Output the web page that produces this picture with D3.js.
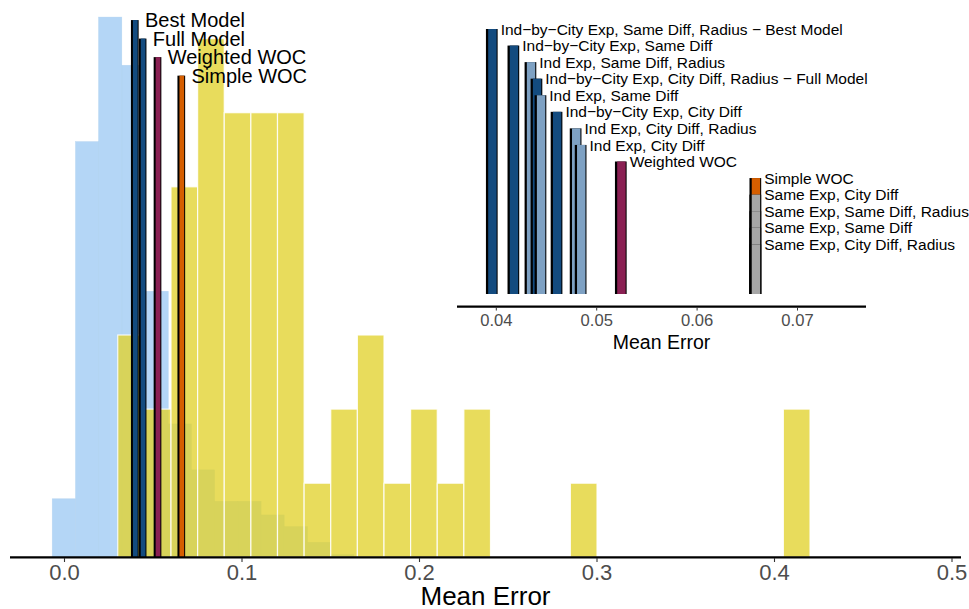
<!DOCTYPE html>
<html><head><meta charset="utf-8">
<script src="https://cdn.jsdelivr.net/npm/d3@7"></script>
<style>html,body{margin:0;padding:0;background:#fff;} svg{display:block;font-family:"Liberation Sans",Arial,sans-serif;}</style>
</head><body>
<svg id="chart" width="969" height="609"></svg>
<script>
// ---------- DATA ----------
// Individual-participant error histogram (light blue): bin left edges, bin width, heights
const indivBinEdges = [-0.0069, 0.0062, 0.0192, 0.0323, 0.0454, 0.0584, 0.0715, 0.0846, 0.0977, 0.1107, 0.1238, 0.1369, 0.1499];
const indivBinWidth = 0.01307;
const indivHeights = [0.79, 5.61, 7.29, 6.64, 3.59, 1.80, 1.18, 0.756, 0.756, 0.572, 0.414, 0.202, 0.036];
// City-level error histogram (yellow): bin left edges, bin width, counts
const cityBinEdges = [0.03, 0.045, 0.06, 0.075, 0.09, 0.105, 0.12, 0.135, 0.15, 0.165, 0.18, 0.195, 0.21, 0.225, 0.285, 0.405];
const cityBinWidth = 0.015;
const cityCounts = [3, 2, 5, 7, 6, 6, 6, 1, 2, 3, 1, 2, 1, 2, 1, 2];
// Main-panel model markers
const mainModels = ["Best Model", "Full Model", "Weighted WOC", "Simple WOC"];
const mainModelErrors = [0.0396, 0.0440, 0.0524, 0.0658];
const mainModelHeights = [7.25, 7.0, 6.75, 6.5];
const mainModelKinds = ["indcity", "indcity", "weighted", "simple"];
// Inset models
const insetModels = [
  "Ind\u2212by\u2212City Exp, Same Diff, Radius \u2212 Best Model",
  "Ind\u2212by\u2212City Exp, Same Diff",
  "Ind Exp, Same Diff, Radius",
  "Ind\u2212by\u2212City Exp, City Diff, Radius \u2212 Full Model",
  "Ind Exp, Same Diff",
  "Ind\u2212by\u2212City Exp, City Diff",
  "Ind Exp, City Diff, Radius",
  "Ind Exp, City Diff",
  "Weighted WOC",
  "Simple WOC",
  "Same Exp, City Diff",
  "Same Exp, Same Diff, Radius",
  "Same Exp, Same Diff",
  "Same Exp, City Diff, Radius"
];
const insetErrors = [0.03955, 0.0417, 0.0434, 0.0440, 0.0444, 0.0460, 0.0479, 0.0484, 0.0524, 0.0658, 0.0658, 0.0658, 0.0658, 0.0658];
const insetHeights = [16, 15, 14, 13, 12, 11, 10, 9, 8, 7, 6, 5, 4, 3];
const insetKinds = ["indcity", "indcity", "ind", "indcity", "ind", "indcity", "ind", "ind", "weighted", "simple", "same", "same", "same", "same"];
// Ticks
const mainTicks = [0.0, 0.1, 0.2, 0.3, 0.4, 0.5];
const insetTicks = [0.04, 0.05, 0.06, 0.07];

// ---------- STYLE ----------
const kindColor = {indcity: "#134b7f", ind: "#7ea1c3", weighted: "#8a2053", simple: "#d55e00", same: "#a6a6a6"};
const svg = d3.select("#chart");

// ---------- MAIN PANEL ----------
const x = d3.scaleLinear().domain([0, 0.5]).range([64.5, 952]);
const y = d3.scaleLinear().domain([0, 7.5]).range([557.3, 1.55]);

const gMain = svg.append("g");
gMain.selectAll("rect.indiv").data(indivBinEdges).join("rect")
  .attr("class", "indiv")
  .attr("x", d => x(d)).attr("width", d => x(d + indivBinWidth) - x(d))
  .attr("y", (d, i) => y(indivHeights[i])).attr("height", (d, i) => y(0) - y(indivHeights[i]))
  .attr("fill", "#b4d6f6").attr("stroke", "#a9cdee").attr("stroke-width", 0.6).attr("stroke-opacity", 0.6);

gMain.selectAll("rect.city").data(cityBinEdges).join("rect")
  .attr("class", "city")
  .attr("x", d => x(d)).attr("width", d => x(d + cityBinWidth) - x(d))
  .attr("y", (d, i) => y(cityCounts[i])).attr("height", (d, i) => y(0) - y(cityCounts[i]))
  .attr("fill", "rgb(226,210,46)").attr("fill-opacity", 0.78)
  .attr("stroke", "#ffffff").attr("stroke-width", 1.2).attr("stroke-opacity", 0.85);

// model markers
mainModels.forEach((m, i) => {
  const c = x(mainModelErrors[i]);
  const top = y(mainModelHeights[i]);
  gMain.append("rect").attr("x", c - 3.85).attr("width", 7.7)
    .attr("y", top).attr("height", y(0) - top).attr("fill", "#000");
  gMain.append("rect").attr("x", c - 1.85).attr("width", 4.7)
    .attr("y", top).attr("height", y(0) - top).attr("fill", kindColor[mainModelKinds[i]]);
});
mainModels.forEach((m, i) => {
  const c = x(mainModelErrors[i]);
  gMain.append("text").attr("x", c + 10.2).attr("y", y(mainModelHeights[i]) + 7.2)
    .attr("font-size", 20).attr("fill", "#000").text(m);
});

// main axis
gMain.append("line").attr("x1", 10).attr("x2", 961).attr("y1", 557.3).attr("y2", 557.3)
  .attr("stroke", "#000").attr("stroke-width", 2.2);
const mt = gMain.selectAll("g.mt").data(mainTicks).join("g").attr("class", "mt")
  .attr("transform", d => `translate(${x(d)},0)`);
mt.append("line").attr("y1", 558).attr("y2", 562).attr("stroke", "#333").attr("stroke-width", 1.1);
mt.append("text").attr("y", 580).attr("text-anchor", "middle").attr("font-size", 22)
  .attr("fill", "#4d4d4d").text(d => d3.format(".1f")(d));
gMain.append("text").attr("x", (10 + 961) / 2).attr("y", 604.5).attr("text-anchor", "middle")
  .attr("font-size", 26).attr("fill", "#000").text("Mean Error");

// ---------- INSET ----------
const xi = d3.scaleLinear().domain([0.04, 0.07]).range([496.3, 797.5]);
const yi = d3.scaleLinear().domain([0, 16]).range([294, 29]);
const gIn = svg.append("g");
insetModels.forEach((m, i) => {
  const c = xi(insetErrors[i]);
  const top = yi(insetHeights[i]);
  gIn.append("rect").attr("x", c - 5.85).attr("width", 11.7)
    .attr("y", top).attr("height", yi(0) - top).attr("fill", "#000");
  gIn.append("rect").attr("x", c - 3.6).attr("width", 8.4)
    .attr("y", top).attr("height", yi(0) - top).attr("fill", kindColor[insetKinds[i]]);
});
insetModels.forEach((m, i) => {
  const c = xi(insetErrors[i]);
  gIn.append("text").attr("x", c + 8.85).attr("y", yi(insetHeights[i]) + 5.6)
    .attr("font-size", 15.5).attr("fill", "#000").text(m);
});
gIn.append("line").attr("x1", 457).attr("x2", 866).attr("y1", 306.7).attr("y2", 306.7)
  .attr("stroke", "#000").attr("stroke-width", 2.2);
const it = gIn.selectAll("g.it").data(insetTicks).join("g").attr("class", "it")
  .attr("transform", d => `translate(${xi(d)},0)`);
it.append("line").attr("y1", 307.5).attr("y2", 310.5).attr("stroke", "#333").attr("stroke-width", 1);
it.append("text").attr("y", 326).attr("text-anchor", "middle").attr("font-size", 16.6)
  .attr("fill", "#4d4d4d").text(d => d3.format(".2f")(d));
gIn.append("text").attr("x", 661.5).attr("y", 349).attr("text-anchor", "middle")
  .attr("font-size", 19.5).attr("fill", "#000").text("Mean Error");
</script>
</body></html>
